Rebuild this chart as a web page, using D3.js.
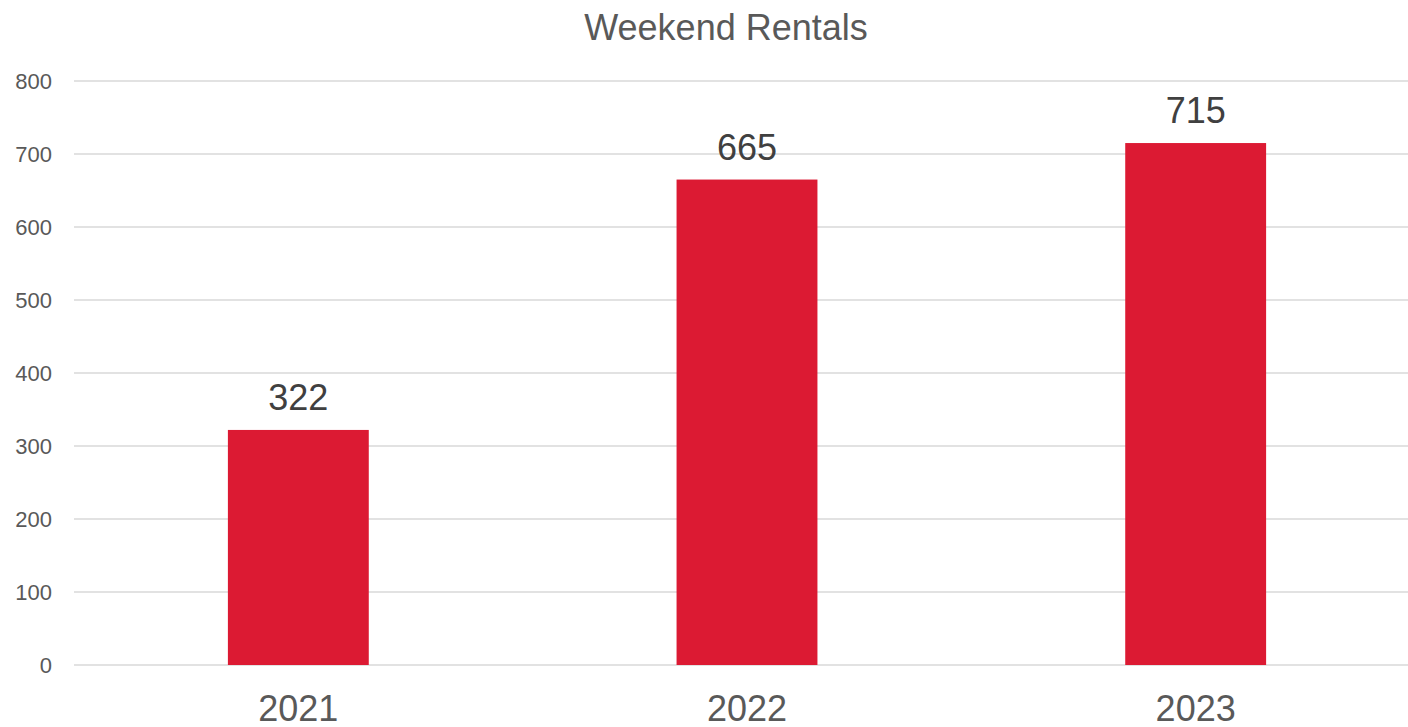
<!DOCTYPE html>
<html>
<head>
<meta charset="utf-8">
<script src="https://cdn.jsdelivr.net/npm/d3@7"></script>
<style>
  html, body { margin: 0; padding: 0; background: #fff; overflow: hidden; }
  text { font-family: "Liberation Sans", Arial, sans-serif; }
</style>
</head>
<body>
<script>
var years = ["2021", "2022", "2023"];
var rentals = [322, 665, 715];
var yTicks = [0, 100, 200, 300, 400, 500, 600, 700, 800];
var chartTitle = "Weekend Rentals";

// note: "top" is a read-only window global, so use own names
var width = 1408, height = 727,
    plotLeft = 74, plotRight = 1420, plotTop = 81, plotBottom = 665;

var svg = d3.select("body").append("svg")
    .attr("width", width)
    .attr("height", height);

var x = d3.scaleBand()
    .domain(years)
    .range([plotLeft, plotRight])
    .paddingInner(0.686)
    .paddingOuter(0.343);

var y = d3.scaleLinear()
    .domain([0, 800])
    .range([plotBottom, plotTop]);

// gridlines
svg.append("g")
    .selectAll("line")
    .data(yTicks)
    .enter().append("line")
    .attr("x1", plotLeft)
    .attr("x2", plotRight)
    .attr("y1", function (d) { return y(d); })
    .attr("y2", function (d) { return y(d); })
    .style("stroke", "#d9d9d9")
    .style("stroke-width", 1.5);

// y axis labels
var yAxis = d3.axisLeft(y).tickValues(yTicks).tickSize(0).tickPadding(0);
var gy = svg.append("g")
    .attr("transform", "translate(52,0)")
    .call(yAxis);
gy.select(".domain").remove();
gy.selectAll("text")
    .style("font-family", "'Liberation Sans', Arial, sans-serif")
    .style("font-size", "22px")
    .style("fill", "#595959")
    .attr("dy", "0.36em");

// bars
svg.append("g")
    .selectAll("rect")
    .data(rentals)
    .enter().append("rect")
    .attr("x", function (d, i) { return x(years[i]); })
    .attr("width", x.bandwidth())
    .attr("y", function (d) { return y(d); })
    .attr("height", function (d) { return plotBottom - y(d); })
    .style("fill", "#dc1a33");

// data labels
svg.append("g")
    .selectAll("text")
    .data(rentals)
    .enter().append("text")
    .attr("x", function (d, i) { return x(years[i]) + x.bandwidth() / 2; })
    .attr("y", function (d) { return y(d) - 20; })
    .attr("text-anchor", "middle")
    .style("font-size", "36px")
    .style("fill", "#404040")
    .text(function (d) { return d; });

// x axis labels
var xAxis = d3.axisBottom(x).tickSize(0).tickPadding(0);
var gx = svg.append("g")
    .attr("transform", "translate(0,721)")
    .call(xAxis);
gx.select(".domain").remove();
gx.selectAll("text")
    .attr("dy", 0)
    .attr("y", 0)
    .style("font-family", "'Liberation Sans', Arial, sans-serif")
    .style("font-size", "36px")
    .style("fill", "#595959");

// title
svg.append("text")
    .attr("x", 726)
    .attr("y", 40)
    .attr("text-anchor", "middle")
    .style("font-size", "36px")
    .style("fill", "#595959")
    .text(chartTitle);
</script>
</body>
</html>
